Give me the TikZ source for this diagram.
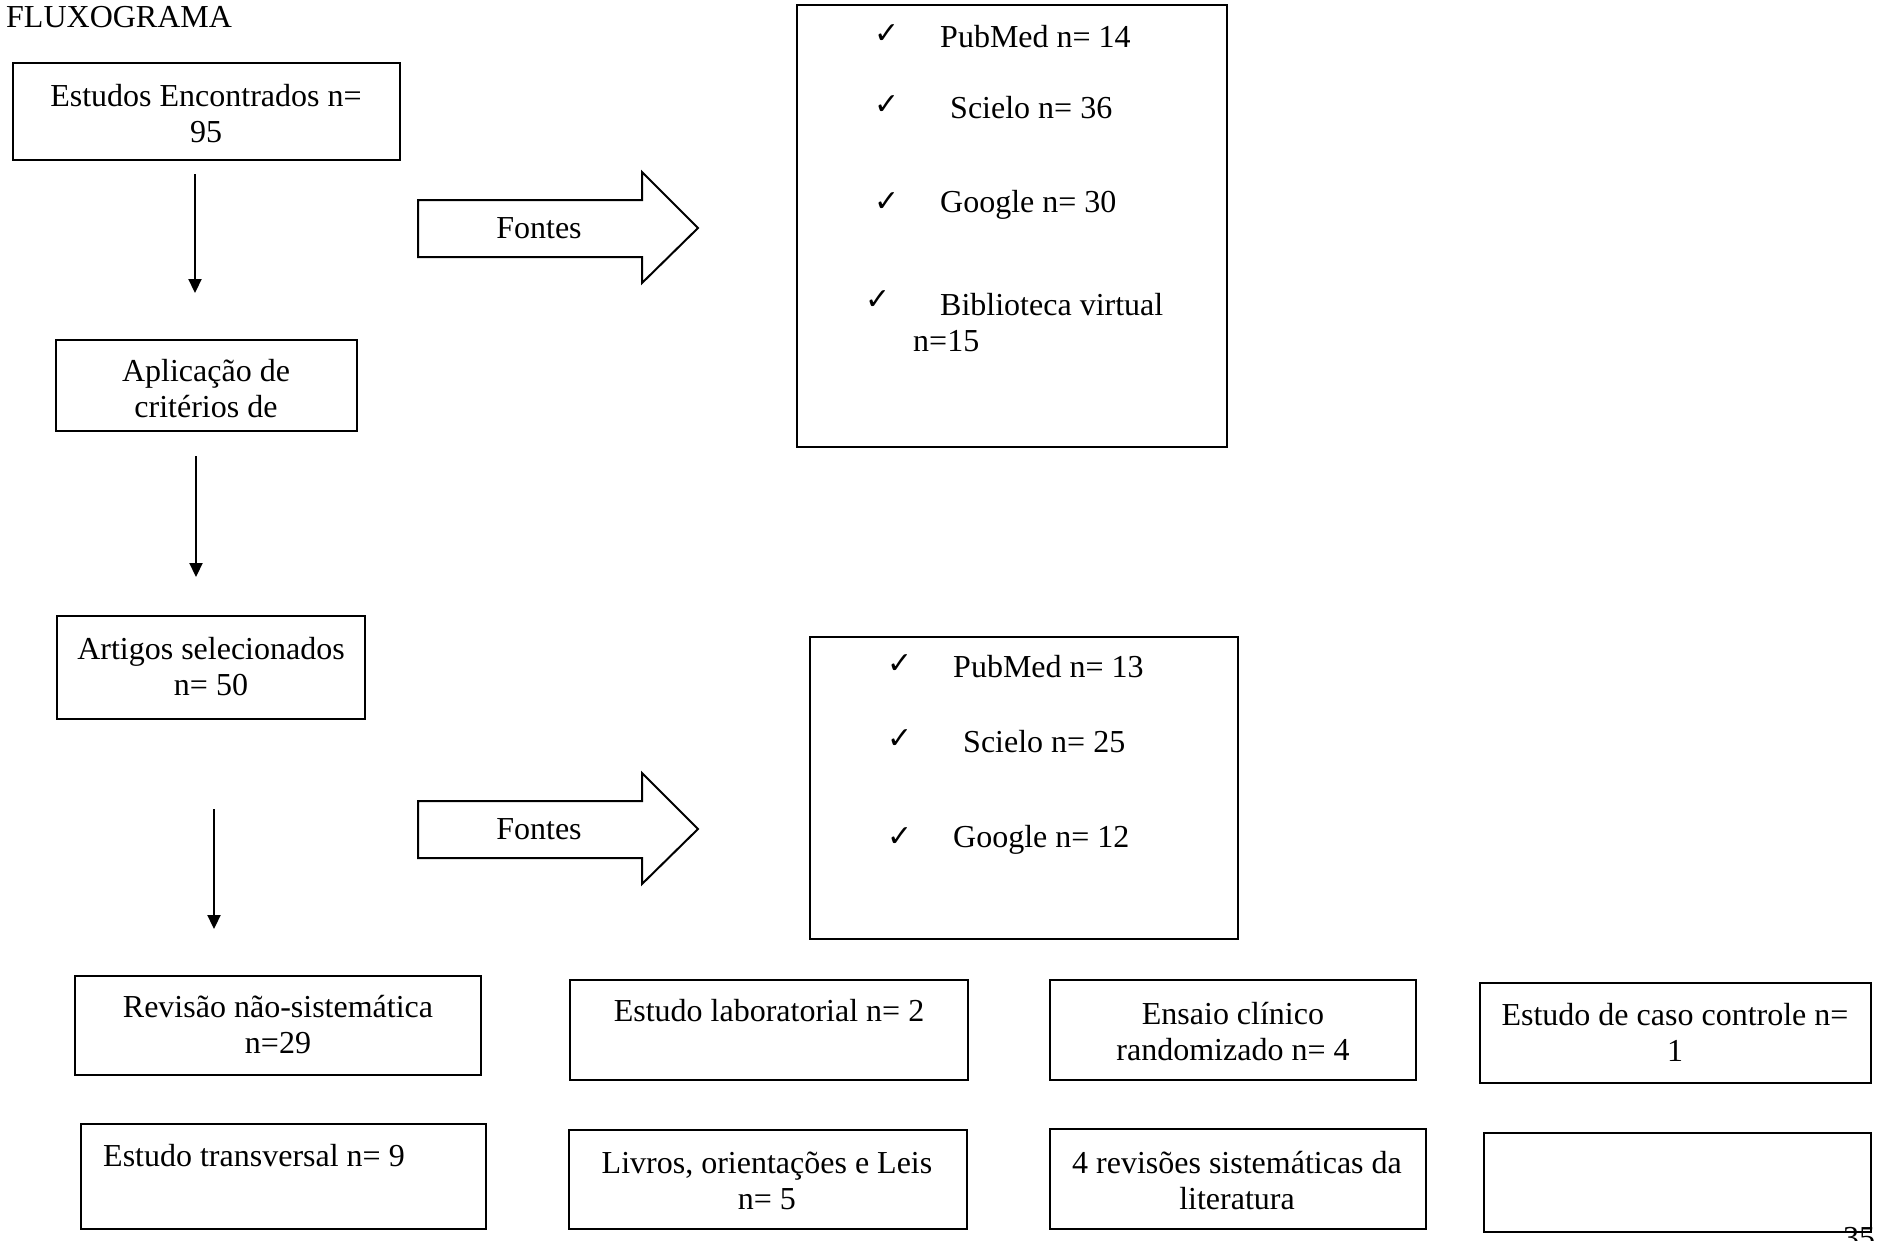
\documentclass[tikz,border=0pt]{standalone}
\usepackage{fontspec}
\setmainfont{Liberation Serif}
\newfontfamily\symfont{DejaVu Sans}
\usetikzlibrary{arrows.meta,fit}
\begin{document}
\begin{tikzpicture}[x=1pt,y=-1pt,
  box/.style={draw, line width=2pt, inner sep=0pt},
  txt/.style={font=\fontsize{32}{36}\selectfont, inner sep=0pt, align=center},
  chk/.style={font=\symfont\fontsize{30}{30}\selectfont, inner sep=0pt},
  flow/.style={line width=2.2pt, -{Triangle[length=14pt,width=13pt]}},
  bigarrow/.style={draw, line width=2pt, line join=miter}]
\useasboundingbox (0,0) rectangle (1877,1240);

% title
\node[txt, anchor=west] (title) at (6,17) {FLUXOGRAMA};

% left column boxes
\node[box, fit={(13,63) (400,160)}] (b1) {};
\node[txt] (t1) at (206,114) {Estudos Encontrados n=\\95};
\node[box, fit={(56,340) (357,431)}] (b2) {};
\node[txt] (t2) at (206,389) {Aplicação de\\critérios de};
\node[box, fit={(57,616) (365,719)}] (b3) {};
\node[txt] (t3) at (211,667) {Artigos selecionados\\n= 50};

% vertical arrows
\coordinate (a1s) at (195,174); \coordinate (a1e) at (195,293);
\coordinate (a2s) at (196,456); \coordinate (a2e) at (196,577);
\coordinate (a3s) at (214,809); \coordinate (a3e) at (214,929);
\draw[flow] (a1s) -- (a1e);
\draw[flow] (a2s) -- (a2e);
\draw[flow] (a3s) -- (a3e);

% Fontes arrows
\draw[bigarrow] (418,200) -- (642,200) -- (642,172) -- (698,228) -- (642,283) -- (642,257) -- (418,257) -- cycle;
\node[txt] (f1) at (539,228) {Fontes};
\draw[bigarrow] (418,801) -- (642,801) -- (642,773) -- (698,829) -- (642,884) -- (642,858) -- (418,858) -- cycle;
\node[txt] (f2) at (539,829) {Fontes};

% sources box 1
\node[box, fit={(797,5) (1227,447)}] (s1) {};
\node[chk] (c11) at (887,34) {✓};
\node[txt, anchor=west] (s11) at (940,37) {PubMed n= 14};
\node[chk] (c12) at (887,105) {✓};
\node[txt, anchor=west] (s12) at (950,108) {Scielo n= 36};
\node[chk] (c13) at (887,202) {✓};
\node[txt, anchor=west] (s13) at (940,205) {Google n= 30};
\node[chk] (c14) at (878,300) {✓};
\node[txt, anchor=west] (s14) at (940,305) {Biblioteca virtual};
\node[txt, anchor=west] (s15) at (913,341) {n=15};

% sources box 2
\node[box, fit={(810,637) (1238,939)}] (s2) {};
\node[chk] (c21) at (900,664) {✓};
\node[txt, anchor=west] (s21) at (953,667) {PubMed n= 13};
\node[chk] (c22) at (900,739) {✓};
\node[txt, anchor=west] (s22) at (963,742) {Scielo n= 25};
\node[chk] (c23) at (900,837) {✓};
\node[txt, anchor=west] (s23) at (953,840) {Google n= 12};

% bottom row 1
\node[box, fit={(75,976) (481,1075)}] (r1) {};
\node[txt] (tr1) at (278,1025) {Revisão não-sistemática\\n=29};
\node[box, fit={(570,980) (968,1080)}] (r2) {};
\node[txt] (tr2) at (769,1011) {Estudo laboratorial n= 2};
\node[box, fit={(1050,980) (1416,1080)}] (r3) {};
\node[txt] (tr3) at (1233,1032) {Ensaio clínico\\randomizado n= 4};
\node[box, fit={(1480,983) (1871,1083)}] (r4) {};
\node[txt] (tr4) at (1675,1032) {Estudo de caso controle n=\\1};

% bottom row 2
\node[box, fit={(81,1124) (486,1229)}] (q1) {};
\node[txt, anchor=west] (tq1) at (103,1156) {Estudo transversal n= 9};
\node[box, fit={(569,1130) (967,1229)}] (q2) {};
\node[txt] (tq2) at (767,1181) {Livros, orientações e Leis\\n= 5};
\node[box, fit={(1050,1129) (1426,1229)}] (q3) {};
\node[txt] (tq3) at (1237,1181) {4 revisões sistemáticas da\\literatura};
\node[box, fit={(1484,1133) (1871,1232)}] (q4) {};

% page number (cut off by page edge, as in the reference)
\node[txt, anchor=north west] (pg) at (1843,1227) {35};
\end{tikzpicture}
\end{document}
